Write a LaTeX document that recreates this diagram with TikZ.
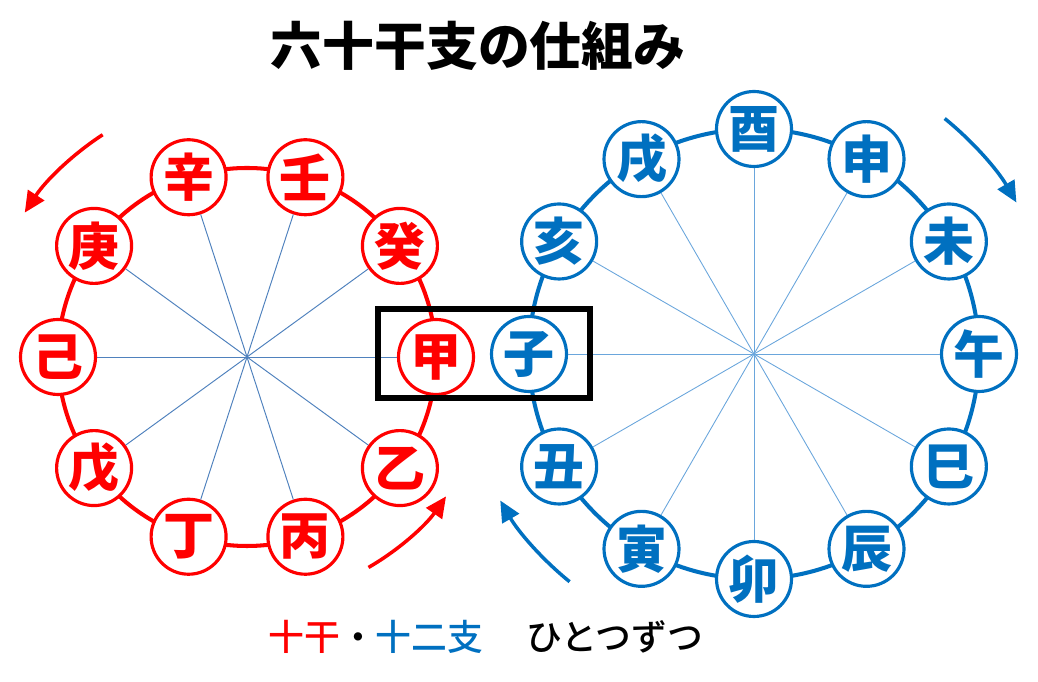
\documentclass[tikz,border=0pt]{standalone}
\usepackage{fontspec}
\newfontfamily\jp{Noto Sans CJK JP}
\newfontfamily\jpm{Noto Sans CJK JP Medium}
\usetikzlibrary{arrows.meta}
\definecolor{kred}{HTML}{FF0000}
\definecolor{kblue}{HTML}{0070C0}
\definecolor{rspoke}{HTML}{4F81BD}
\definecolor{bspoke}{HTML}{6AA6DC}
\tikzset{
	rnode/.style={circle, draw=kred, fill=white, line width=1.8pt, minimum size=1.5cm, inner sep=0pt, text=kred, font=\jp\bfseries\fontsize{29}{32}\selectfont},
	bnode/.style={circle, draw=kblue, fill=white, line width=1.8pt, minimum size=1.5cm, inner sep=0pt, text=kblue, font=\jp\bfseries\fontsize{29}{32}\selectfont},
	rspk/.style={rspoke, line width=0.55pt},
	bspk/.style={bspoke, line width=0.5pt},
	turn/.style={line width=2pt, -{Triangle[length=0.42cm, width=0.38cm]}}
}

\begin{document}
\begin{tikzpicture}[x=0.02cm, y=0.02cm]
		%%%%% START %%%%%
		\useasboundingbox (0, 0) rectangle (1038, 682);
		
		\node[font=\jp\bfseries\fontsize{29.5}{32}\selectfont] (title) at (478, 636) {六十干支の仕組み};
		
		% centres of the two rings
		\coordinate (rc) at (247, 325);
		\coordinate (bc) at (754, 328);
		
		\draw[kred, line width=2.3pt] (rc) circle (189);
		\draw[kblue, line width=2.3pt] (bc) circle (225);
		
		% ten stems
		\node[rnode] (jia)  at ([shift={(0:189)}]rc) {甲};
		\node[rnode] (yi)   at ([shift={(-36:189)}]rc) {乙};
		\node[rnode] (bing) at ([shift={(-72:189)}]rc) {丙};
		\node[rnode] (ding) at ([shift={(-108:189)}]rc) {丁};
		\node[rnode] (wu)   at ([shift={(-144:189)}]rc) {戊};
		\node[rnode] (ji)   at ([shift={(180:189)}]rc) {己};
		\node[rnode] (geng) at ([shift={(144:189)}]rc) {庚};
		\node[rnode] (xin)  at ([shift={(108:189)}]rc) {辛};
		\node[rnode] (ren)  at ([shift={(72:189)}]rc) {壬};
		\node[rnode] (gui)  at ([shift={(36:189)}]rc) {癸};
		
		% twelve branches
		\node[bnode] (zi)   at ([shift={(180:225)}]bc) {子};
		\node[bnode] (chou) at ([shift={(210:225)}]bc) {丑};
		\node[bnode] (yin)  at ([shift={(240:225)}]bc) {寅};
		\node[bnode] (mao)  at ([shift={(270:225)}]bc) {卯};
		\node[bnode] (chen) at ([shift={(300:225)}]bc) {辰};
		\node[bnode] (si)   at ([shift={(330:225)}]bc) {巳};
		\node[bnode] (wuu)  at ([shift={(0:225)}]bc) {午};
		\node[bnode] (wei)  at ([shift={(30:225)}]bc) {未};
		\node[bnode] (shen) at ([shift={(60:225)}]bc) {申};
		\node[bnode] (you)  at ([shift={(90:225)}]bc) {酉};
		\node[bnode] (xu)   at ([shift={(120:225)}]bc) {戌};
		\node[bnode] (hai)  at ([shift={(150:225)}]bc) {亥};
		
		% spokes
		\draw[rspk] (rc) -- (jia);
		\draw[rspk] (rc) -- (yi);
		\draw[rspk] (rc) -- (bing);
		\draw[rspk] (rc) -- (ding);
		\draw[rspk] (rc) -- (wu);
		\draw[rspk] (rc) -- (ji);
		\draw[rspk] (rc) -- (geng);
		\draw[rspk] (rc) -- (xin);
		\draw[rspk] (rc) -- (ren);
		\draw[rspk] (rc) -- (gui);
		
		\draw[bspk] (bc) -- (zi);
		\draw[bspk] (bc) -- (chou);
		\draw[bspk] (bc) -- (yin);
		\draw[bspk] (bc) -- (mao);
		\draw[bspk] (bc) -- (chen);
		\draw[bspk] (bc) -- (si);
		\draw[bspk] (bc) -- (wuu);
		\draw[bspk] (bc) -- (wei);
		\draw[bspk] (bc) -- (shen);
		\draw[bspk] (bc) -- (you);
		\draw[bspk] (bc) -- (xu);
		\draw[bspk] (bc) -- (hai);
		
		% turning arrows
		\draw[turn, kred] ([shift={(123:265)}]rc) arc (123:147:265);
		\draw[turn, kred] ([shift={(-60:243)}]rc) arc (-60:-35:243);
		\draw[turn, kblue] ([shift={(51:303)}]bc) arc (51:30:303);
		\draw[turn, kblue] ([shift={(231:293)}]bc) arc (231:210:293);
		
		% the pair in step
		\draw[line width=3.4pt] (378, 284) rectangle (590, 373);
		
		\node[anchor=west, inner sep=0pt, font=\jpm\fontsize{20.4}{24}\selectfont] (note) at (268, 45)
			{{\color{kred}十干}・{\color{kblue}十二支}\hspace{1.2em}ひとつずつ};
		%%%%% END %%%%%
	\end{tikzpicture}
\end{document}
